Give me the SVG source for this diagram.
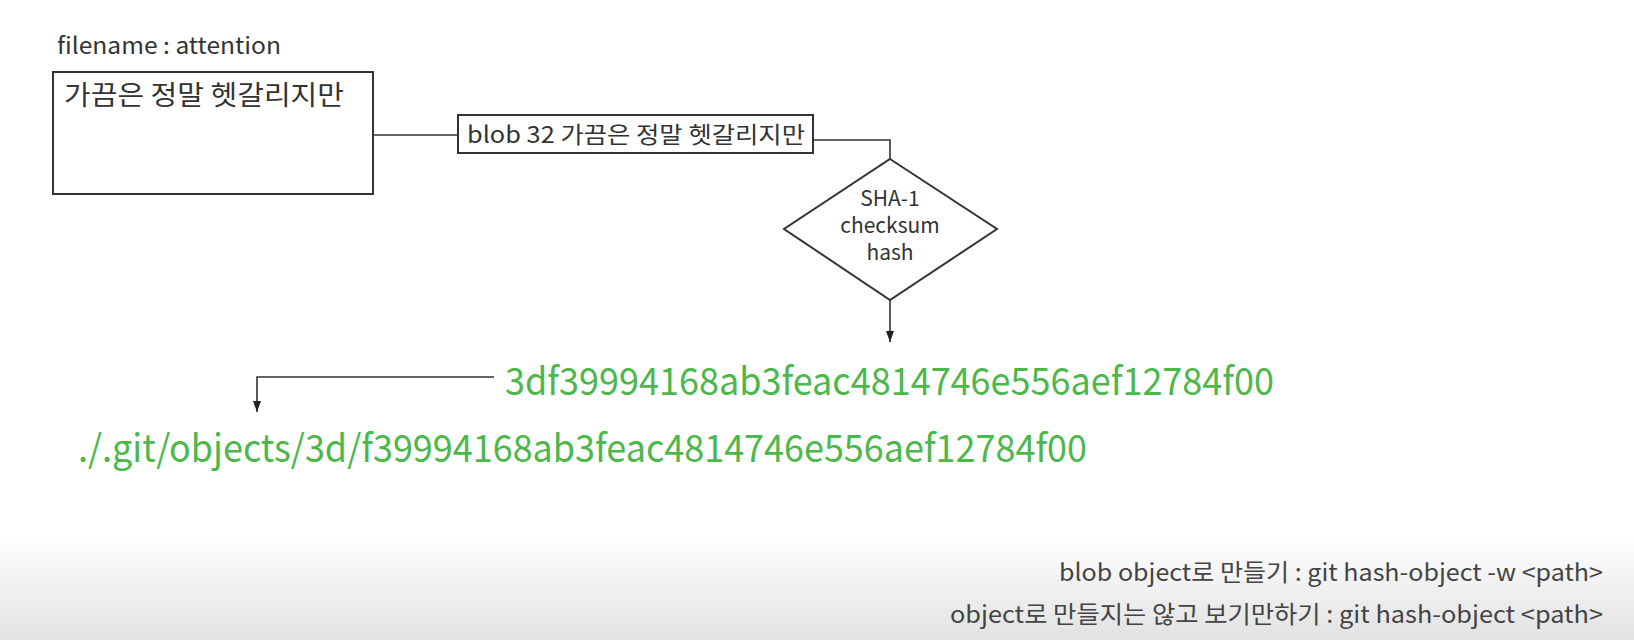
<svg xmlns="http://www.w3.org/2000/svg" width="1634" height="640" viewBox="0 0 1634 640">
  <defs>
    <linearGradient id="bg" x1="0" y1="0" x2="0" y2="1">
      <stop offset="0" stop-color="#ffffff"/>
      <stop offset="1" stop-color="#e2e2e2"/>
    </linearGradient>
    <marker id="arrow" markerWidth="12" markerHeight="10" refX="11" refY="5" orient="auto" markerUnits="userSpaceOnUse" viewBox="0 0 12 10">
      <path d="M0,1 L11,5 L0,9 Z" fill="#222"/>
    </marker>
  </defs>
  <style>
    text { font-family: "Noto Sans CJK KR", "Noto Sans", sans-serif; fill: #333; }
    .box { fill: #fff; stroke: #333; stroke-width: 2; }
    .conn { fill: none; stroke: #333; stroke-width: 1.6; }
    .green { fill: #4cb84c; font-size: 38px; }
    .note { fill: #444; font-size: 24px; }
  </style>
  <rect x="0" y="0" width="1634" height="640" fill="#fff"/>
  <rect x="0" y="535" width="1634" height="105" fill="url(#bg)"/>

  <g id="connectors">
    <path class="conn" d="M373,135 H458"/>
    <path class="conn" d="M813,140 H890 V159"/>
    <path class="conn" d="M890,300 V342" marker-end="url(#arrow)"/>
    <path class="conn" d="M494,377 H257 V412" marker-end="url(#arrow)"/>
  </g>

  <g id="file-label">
    <text x="57" y="54" font-size="23" textLength="224" lengthAdjust="spacingAndGlyphs">filename : attention</text>
  </g>

  <g id="file-node">
    <rect class="box" x="53" y="72" width="320" height="122"/>
    <text x="64" y="105" font-size="27" textLength="280" lengthAdjust="spacingAndGlyphs">가끔은 정말 헷갈리지만</text>
  </g>

  <g id="blob-node">
    <rect class="box" x="458" y="115" width="355" height="38"/>
    <text x="467" y="143" font-size="23" textLength="338" lengthAdjust="spacingAndGlyphs">blob 32 가끔은 정말 헷갈리지만</text>
  </g>

  <g id="sha-node">
    <polygon class="box" points="890,159 997,229 890,300 784,229"/>
    <text x="890" y="206" font-size="21" text-anchor="middle">SHA-1</text>
    <text x="890" y="233" font-size="21" text-anchor="middle">checksum</text>
    <text x="890" y="260" font-size="21" text-anchor="middle">hash</text>
  </g>

  <g id="hash-node">
    <text class="green" x="505" y="395" textLength="769" lengthAdjust="spacingAndGlyphs">3df39994168ab3feac4814746e556aef12784f00</text>
  </g>

  <g id="path-node">
    <text class="green" x="78" y="462" textLength="1009" lengthAdjust="spacingAndGlyphs">./.git/objects/3d/f39994168ab3feac4814746e556aef12784f00</text>
  </g>

  <g id="notes">
    <text class="note" x="1059" y="581" textLength="544" lengthAdjust="spacingAndGlyphs">blob object로 만들기 : git hash-object -w &lt;path&gt;</text>
    <text class="note" x="950" y="623" textLength="653" lengthAdjust="spacingAndGlyphs">object로 만들지는 않고 보기만하기 : git hash-object &lt;path&gt;</text>
  </g>
</svg>
